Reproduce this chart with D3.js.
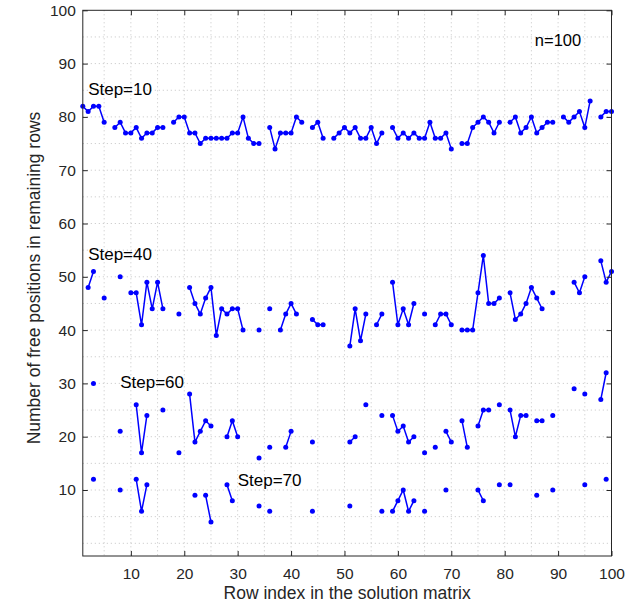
<!DOCTYPE html>
<html><head><meta charset="utf-8">
<script src="https://cdn.jsdelivr.net/npm/d3@7"></script>
<style>body{margin:0;background:#fff} text{font-family:"Liberation Sans",Arial,sans-serif}</style>
</head><body><svg id="c" width="628" height="604"></svg>
<script>
const N = null;
const rows = d3.range(1, 101);
const step10 = [82,81,82,82,79,N,78,79,77,77, 78,76,77,77,78,78,N,79,80,80,
  77,77,75,76,76,76,76,76,77,77, 80,76,75,75,N,78,74,77,77,77,
  80,79,N,78,79,76,N,76,77,78, 77,78,76,76,78,75,77,N,78,76,
  77,76,77,76,76,79,76,76,77,74, N,75,75,78,79,80,79,77,79,N,
  79,80,77,78,80,77,78,79,79,N, 80,79,80,81,78,83,N,80,81,81];
const step40 = [N,48,51,N,46,N,N,50,N,47, 47,41,49,44,49,44,N,N,43,N,
  48,45,43,46,48,39,44,43,44,44, 40,N,N,40,N,44,N,40,43,45,
  43,N,N,42,41,41,N,N,N,N, 37,44,38,43,N,41,43,N,49,41,
  44,41,45,N,43,N,41,43,43,41, N,40,40,40,47,54,45,45,46,N,
  47,42,43,45,48,46,44,N,47,N, N,N,49,47,50,N,N,53,49,51];
const step60 = [N,N,30,N,N,N,N,21,N,N, 26,17,24,N,N,25,N,N,17,N,
  28,19,21,23,22,N,N,20,23,20, N,N,N,16,N,18,N,N,18,21,
  N,N,N,19,N,N,N,N,N,N, 19,20,N,26,N,N,24,N,24,21,
  22,19,20,N,17,N,18,N,21,19, N,23,18,N,22,25,25,N,26,N,
  25,20,24,24,N,23,23,N,24,N, N,N,29,N,28,N,N,27,32,N];
const step70 = [N,N,12,N,N,N,N,10,N,N, 12,6,11,N,N,N,N,N,N,N,
  N,9,N,9,4,N,N,11,8,N, N,N,N,7,N,6,N,N,N,N,
  N,N,N,6,N,N,N,N,N,N, 7,N,N,N,N,N,6,N,6,8,
  10,6,8,N,6,N,N,N,10,N, N,N,N,N,10,8,N,N,11,N,
  11,N,N,N,N,9,N,N,10,N, N,N,N,N,11,N,N,N,12,N];
const seriesNames = ["Step=10","Step=40","Step=60","Step=70"];
const labelPos = [[2,85],[2,54],[8,30],[30,11.5]];
const xTicks = d3.range(10, 101, 10);
const yTicks = d3.range(10, 101, 10);
const gridVals = d3.range(5, 101, 5);

const svg = d3.select("#c");
const L = 82.8, R = 611.5, T = 10.3, B = 556;
const x = d3.scaleLinear([1, 100], [L, R]);
const y = d3.scaleLinear([0, 100], [543.3, T]);

const grid = svg.append("g").attr("stroke", "#c4c4c4").attr("stroke-width", 1).attr("stroke-dasharray", "1,3");
grid.selectAll(".gx").data(gridVals.filter(v => v > 1 && v < 100)).join("line")
  .attr("x1", d => x(d)).attr("x2", d => x(d)).attr("y1", T).attr("y2", B);
grid.selectAll(".gy").data(d3.range(0, 100, 5)).join("line")
  .attr("y1", d => y(d)).attr("y2", d => y(d)).attr("x1", L).attr("x2", R);

const line = d3.line().defined(d => d[1] !== null).x(d => x(d[0])).y(d => y(d[1]));
[step10, step40, step60, step70].forEach(s => {
  const pts = rows.map((r, i) => [r, s[i]]);
  svg.append("path").datum(pts).attr("d", line).attr("fill", "none")
    .attr("stroke", "#0000ff").attr("stroke-width", 1.5);
  svg.append("g").selectAll("circle").data(pts.filter(p => p[1] !== null)).join("circle")
    .attr("cx", d => x(d[0])).attr("cy", d => y(d[1])).attr("r", 2.5).attr("fill", "#0000ff");
});

const fs = 15.5;
const ax = svg.append("g").attr("transform", `translate(0,${B})`)
  .call(d3.axisBottom(x).tickValues(xTicks).tickSizeInner(-5).tickSizeOuter(0).tickPadding(12));
const ay = svg.append("g").attr("transform", `translate(${L},0)`)
  .call(d3.axisLeft(y).tickValues(yTicks).tickSizeInner(-5).tickSizeOuter(0).tickPadding(7));
const axt = svg.append("g").attr("transform", `translate(0,${T})`)
  .call(d3.axisTop(x).tickValues(xTicks).tickSizeInner(-5).tickSizeOuter(0).tickFormat(""));
const ayr = svg.append("g").attr("transform", `translate(${R},0)`)
  .call(d3.axisRight(y).tickValues(yTicks).tickSizeInner(-5).tickSizeOuter(0).tickFormat(""));
[ax, ay, axt, ayr].forEach(g => {
  g.select(".domain").remove();
  g.selectAll("line").attr("stroke", "#262626");
  g.selectAll("text").attr("font-size", fs).attr("fill", "#262626").style("font-family", '"Liberation Sans",Arial,sans-serif');
});
svg.append("rect").attr("x", L).attr("y", T).attr("width", R - L).attr("height", B - T)
  .attr("fill", "none").attr("stroke", "#262626").attr("stroke-width", 1);

seriesNames.forEach((n, i) => {
  svg.append("text").attr("x", x(labelPos[i][0])).attr("y", y(labelPos[i][1]))
    .attr("font-size", 17).attr("fill", "#000").attr("dominant-baseline", "middle").text(n);
});
svg.append("text").attr("x", 558).attr("y", 42).attr("text-anchor", "middle").attr("dominant-baseline", "middle")
  .attr("font-size", 16.5).text("n=100");
svg.append("text").attr("x", (L + R) / 2).attr("y", 599).attr("text-anchor", "middle")
  .attr("font-size", 17.5).attr("fill", "#262626").text("Row index in the solution matrix");
svg.append("text").attr("transform", `translate(35,278) rotate(-90)`).attr("text-anchor", "middle")
  .attr("dominant-baseline", "middle").attr("font-size", 17.5).attr("fill", "#262626")
  .text("Number of free positions in remaining rows");
</script></body></html>
